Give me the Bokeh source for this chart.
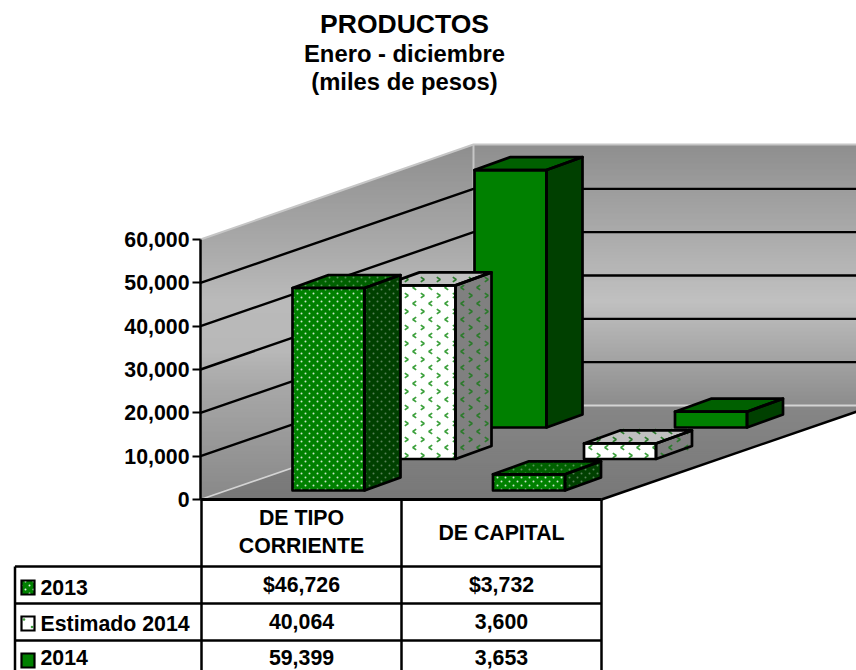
import numpy as np
from bokeh.plotting import figure
from bokeh.models import Range1d, LinearAxis, FixedTicker, NumeralTickFormatter
from bokeh.core.properties import value
from bokeh.embed import file_html
from bokeh.resources import INLINE

# ---- data ----
title_lines = ["PRODUCTOS", "Enero - diciembre", "(miles de pesos)"]
categories = [["DE TIPO", "CORRIENTE"], ["DE CAPITAL"]]
series_names = ["2013", "Estimado 2014", "2014"]
values_2013 = [46726, 3732]
values_est = [40064, 3600]
values_2014 = [59399, 3653]
labels_2013 = ["$46,726", "$3,732"]
labels_est = ["40,064", "3,600"]
labels_2014 = ["59,399", "3,653"]
y_ticks = [0, 10000, 20000, 30000, 40000, 50000, 60000]

# ---- layout ----
FONT = value("Liberation Sans")
V = 60000 / 260          # value units per pixel
Y0 = 499                 # pixel row of value 0 on the front edge
SL = 94 / 273            # slope of the depth direction
XL, XB, XR = 200, 473, 856
YB, YT = 405, 144
PAGE_W, PAGE_H = 856, 670


def vy(px_y):
    return (Y0 - px_y) * V


def pxy(val_y):
    return Y0 - val_y / V


p = figure(width=PAGE_W, height=PAGE_H, output_backend="svg", toolbar_location=None,
           x_range=Range1d(0, PAGE_W),
           y_range=Range1d(vy(PAGE_H), vy(0)),
           x_axis_type=None, y_axis_type=None, min_border=0,
           outline_line_color=None, background_fill_color="white",
           border_fill_color="white")
p.grid.visible = False
p.extra_y_ranges = {"px": Range1d(PAGE_H, 0)}


def poly(xs, ys, **kw):
    p.patch(xs, ys, y_range_name="px", **kw)


def line(xs, ys, color, width):
    p.line(xs, ys, y_range_name="px", line_color=color, line_width=width)


def grey(px_y, stops):
    ys = [s[0] for s in stops]
    cs = [s[1] for s in stops]
    c = int(round(np.interp(px_y, ys, cs)))
    return "#%02x%02x%02x" % (c, c, c)


# ---- walls (vertical gradient, slanted outline) ----
BACK = [(144, 0x8e), (300, 0xc0), (405, 0x8c)]
SIDE = [(144, 0x8e), (240, 0xa8), (300, 0xba), (350, 0xb8), (385, 0xa8), (470, 0x90), (499, 0x88)]
FLOOR = [(405, 0x86), (499, 0x78)]


def side_xl(y):
    return XL if y >= 239 else XL + (239 - y) / (95 / 273)


def side_xr(y):
    return XB if y <= YB else XL + (Y0 - y) / SL


rows = np.unique(np.concatenate([np.arange(YT, Y0, 2), [239, YB, Y0]]))
for a, b in zip(rows[:-1], rows[1:]):
    c = grey((a + b) / 2, SIDE)
    e = min(b + 1, Y0)
    poly([side_xl(a), side_xr(a), side_xr(e), side_xl(e)], [a, a, e, e],
         fill_color=c, line_color=None)

rows = np.unique(np.concatenate([np.arange(YT, YB, 2), [YB]]))
for a, b in zip(rows[:-1], rows[1:]):
    c = grey((a + b) / 2, BACK)
    e = min(b + 1, YB)
    poly([XB, XR, XR, XB], [a, a, e, e], fill_color=c, line_color=None)

rows = np.arange(YB, Y0 + 1, 2)
for a, b in zip(rows[:-1], rows[1:]):
    c = grey((a + b) / 2, FLOOR)
    e = min(b + 1, Y0)
    poly([XL + (Y0 - a) / SL, 601 + (Y0 - a) / SL, 601 + (Y0 - e) / SL, XL + (Y0 - e) / SL],
         [a, a, e, e], fill_color=c, line_color=None)

# light edges
line([XL, XB, XR], [239, YT, YT], "#c6c6c6", 2)
line([XB, XB], [YT, YB], "#c6c6c6", 2)
line([XL, XB, XR], [Y0, YB, YB], "#d4d4d4", 1.8)

# gridlines, from the value ticks
for t in y_ticks[1:-1]:
    p.line([XL, XB, XR], [t, t + (Y0 - YB) * V, t + (Y0 - YB) * V],
           line_color="black", line_width=2.4)


# ---- patterned fills ----
def inside(x, y, xs, ys):
    hit = False
    n = len(xs)
    for i in range(n):
        x1, y1, x2, y2 = xs[i], ys[i], xs[(i + 1) % n], ys[(i + 1) % n]
        if (y1 > y) != (y2 > y) and x < x1 + (y - y1) * (x2 - x1) / (y2 - y1):
            hit = not hit
    return hit


def dots(xs, ys, color, alpha):
    px, py = [], []
    for y in np.arange(np.floor(min(ys)) - (np.floor(min(ys)) % 4) + 1, max(ys), 4):
        off = 4 if int(y - 1) % 8 == 0 else 0
        for x in np.arange(np.floor(min(xs)) - (np.floor(min(xs)) % 8) + off + 1, max(xs), 8):
            if inside(x, y, xs, ys):
                px.append(float(x))
                py.append(float(y))
    if px:
        p.scatter(px, py, y_range_name="px", marker="circle", size=2.0,
                  fill_color=color, fill_alpha=alpha, line_color=None)


def chevrons(xs, ys, color):
    mx, my = [], []
    top = int(np.floor(min(ys)))
    for y in range(top - (top - 295) % 8, int(max(ys)) + 1, 8):
        right = (y - 295) % 16 == 0
        base = 406 if right else 414
        left = int(np.floor(min(xs)))
        for x in range(left - (left - base) % 16, int(max(xs)) + 1, 16):
            if inside(x, y, xs, ys):
                d = 1.7 if right else -1.7
                mx.append([x - d, x + d, x - d])
                my.append([y - 2.4, y, y + 2.4])
    if mx:
        p.multi_line(mx, my, y_range_name="px", line_color=color, line_width=1.7)


# ---- bars ----
BAR_W, DX, DY = 72, 36, 13
STYLE = {
    0: dict(face="#008000", side="#004000", topc="#006000"),
    1: dict(face="#ffffff", side="#808080", topc="#c0c0c0"),
    2: dict(face="#008000", side="#004000", topc="#006000"),
}
all_values = [values_2013, values_est, values_2014]


def bar(i, j):
    val = all_values[j][i]
    x0 = 292 + 200.5 * i + 91 * j
    x1 = x0 + BAR_W
    lift = (9 + 31.5 * j) * V
    base, top = lift, lift + val
    d = DY * V
    front = ([x0, x1, x1, x0], [base, base, top, top])
    side = ([x1, x1 + DX, x1 + DX, x1], [base, base + d, top + d, top])
    roof = ([x0, x1, x1 + DX, x0 + DX], [top, top, top + d, top + d])
    st = STYLE[j]
    for (fx, fy), col in ((front, st["face"]), (side, st["side"]), (roof, st["topc"])):
        p.patch(fx, fy, fill_color=col, line_color=None)
        pys = [pxy(v) for v in fy]
        if j == 0:
            alpha = 0.8 if col == st["face"] else 0.35
            dots(fx, pys, "#ffffff", alpha)
        elif j == 1:
            chevrons(fx, pys, "#3ca03c" if col == st["face"] else "#2c7a2c")
    for fx, fy in (roof, side, front):
        p.patch(fx, fy, fill_alpha=0, line_color="black", line_width=2.7, line_join="round")


for j in (2, 1, 0):
    for i in (0, 1):
        bar(i, j)

# ---- floor right edge ----
line([601, XR], [Y0, Y0 - (XR - 601) * SL], "black", 2.5)

# ---- table ----
TBL = "black"
line([XL, 601], [Y0, Y0], TBL, 3)
line([14.5, 601], [566, 566], TBL, 2.5)
line([14.5, 601], [603, 603], TBL, 2.5)
line([14.5, 601], [640, 640], TBL, 2.5)
line([14.5, 14.5], [566, PAGE_H], TBL, 2.5)
line([XL + 1, XL + 1], [Y0, PAGE_H], TBL, 2.5)
line([401, 401], [Y0, PAGE_H], TBL, 2.5)
line([601, 601], [Y0, PAGE_H], TBL, 2.5)


def txt(x, y, s, size, align="center"):
    # y is the baseline row; the text is anchored by its middle
    p.text([x], [y - 0.36 * size], text=[s], y_range_name="px", text_font=FONT,
           text_font_style="bold", text_font_size=f"{size}px", text_color="black",
           text_align=align, text_baseline="middle")


# title
txt(404, 33, title_lines[0], 26.5)
txt(404, 62, title_lines[1], 23.8)
txt(404, 90, title_lines[2], 23.8)

# header cells
CELL = 21.3
cat_x = [301, 501]
txt(cat_x[0], 525, categories[0][0], CELL)
txt(cat_x[0], 553, categories[0][1], CELL)
txt(cat_x[1], 540, categories[1][0], CELL)

# value cells
row_base = [592, 629, 665]
for lab, yb in zip([labels_2013, labels_est, labels_2014], row_base):
    for s, xc in zip(lab, cat_x):
        txt(xc, yb, s, CELL)

# legend column
leg_base = [595, 631, 665]
leg_top = [580, 616, 653]
for k, (name, yb, yt) in enumerate(zip(series_names, leg_base, leg_top)):
    txt(40, yb, name, CELL, "left")
    kx, ky = [21, 34, 34, 21], [yt, yt, yt + 14, yt + 14]
    poly(kx, ky, fill_color=STYLE[k]["face"], line_color=None)
    if k == 0:
        dots(kx, ky, "#ffffff", 0.9)
    elif k == 1:
        p.scatter([31.5, 23.5], [yt + 10.5, yt + 3], y_range_name="px", marker="circle",
                  size=2.6, fill_color="#3ca03c", line_color=None)
    poly(kx, ky, fill_alpha=0, line_color="black", line_width=2.2, line_join="miter")

# ---- value axis ----
axis = LinearAxis(fixed_location=XL, bounds=(0, 60000),
                  ticker=FixedTicker(ticks=y_ticks),
                  formatter=NumeralTickFormatter(format="0,0"),
                  axis_line_color="black", axis_line_width=2.5,
                  major_tick_line_color="black", major_tick_line_width=2,
                  major_tick_in=0, major_tick_out=8, minor_tick_line_color=None,
                  major_label_standoff=3,
                  major_label_text_font="Liberation Sans",
                  major_label_text_font_style="bold",
                  major_label_text_font_size="21.3px",
                  major_label_text_color="black")
p.add_layout(axis, "left")

open("out.html", "w").write(file_html(p, INLINE))
